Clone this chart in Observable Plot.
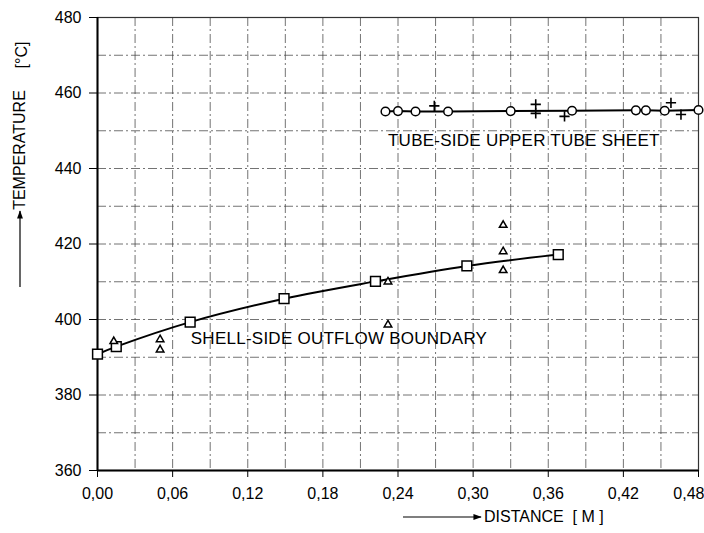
<!DOCTYPE html>
<html><head><meta charset="utf-8">
<script src="https://cdn.jsdelivr.net/npm/d3@7"></script>
<script src="https://cdn.jsdelivr.net/npm/@observablehq/plot@0.6"></script>
<style>
body{margin:0;background:#fff;}
#chart svg text{font-family:"Liberation Sans",Arial,sans-serif;}
</style></head><body><div id="chart"></div>
<script>
// Shell-side outflow boundary
const shellSquareX = [0.000, 0.015, 0.074, 0.149, 0.222, 0.295, 0.368];
const shellSquareY = [390.8, 392.8, 399.3, 405.5, 410.1, 414.2, 417.2];
const shellTriX = [0.013, 0.050, 0.050, 0.232, 0.232, 0.324, 0.324, 0.324];
const shellTriY = [394.2, 394.7, 392.0, 410.0, 398.6, 425.0, 418.0, 413.0];
// Tube-side upper tube sheet
const tubeCircleX = [0.230, 0.240, 0.254, 0.280, 0.330, 0.379, 0.430, 0.438, 0.453, 0.480];
const tubeCircleY = [455.1, 455.2, 455.1, 455.1, 455.2, 455.3, 455.4, 455.4, 455.3, 455.5];
const tubePlusX = [0.269, 0.350, 0.350, 0.373, 0.458, 0.466];
const tubePlusY = [456.6, 457.0, 454.6, 453.8, 457.4, 454.3];
// Axes
const xTicks = [0, 0.06, 0.12, 0.18, 0.24, 0.30, 0.36, 0.42, 0.48];
const xTickLabels = ["0,00","0,06","0,12","0,18","0,24","0,30","0,36","0,42","0,48"];
const yTicks = [360, 380, 400, 420, 440, 460, 480];
const xGrid = [0.03, 0.06, 0.09, 0.12, 0.15, 0.18, 0.21, 0.24, 0.27, 0.30, 0.33, 0.36, 0.39, 0.42, 0.45];
const yGrid = [370, 380, 390, 400, 410, 420, 430, 440, 450, 460, 470];
const labels = [
  {text: "SHELL-SIDE OUTFLOW BOUNDARY", x: 0.0745, y: 395.0},
  {text: "TUBE-SIDE UPPER TUBE SHEET", x: 0.232, y: 447.4}
];

const squares = shellSquareX.map((x, i) => ({x, y: shellSquareY[i]}));
const tris = shellTriX.map((x, i) => ({x, y: shellTriY[i]}));
const circles = tubeCircleX.map((x, i) => ({x, y: tubeCircleY[i]}));
const pluses = tubePlusX.map((x, i) => ({x, y: tubePlusY[i]}));

const gridStyle = {stroke: "#444", strokeOpacity: 0.75, strokeWidth: 1, strokeDasharray: "9,3,2,3"};

const plot = Plot.plot({
  width: 704, height: 533,
  marginLeft: 97, marginRight: 6, marginTop: 17, marginBottom: 63,
  style: {background: "#fff", color: "#000", fontSize: "16px"},
  x: {domain: [0, 0.48]},
  y: {domain: [360, 480]},
  marks: [
    Plot.ruleX(xGrid, gridStyle),
    Plot.ruleY(yGrid, gridStyle),
    Plot.frame({stroke: "#333", strokeWidth: 1.2}),
    Plot.ruleX([0], {stroke: "#000", strokeWidth: 2}),
    Plot.ruleY([360], {stroke: "#000", strokeWidth: 2}),
    Plot.axisX({ticks: xTicks, tickFormat: d => xTickLabels[xTicks.findIndex(t => Math.abs(t - d) < 1e-9)], tickSize: 7, tickPadding: 10, label: null, fontSize: 16}),
    Plot.axisY({ticks: yTicks, tickSize: 8, tickPadding: 8, label: null, fontSize: 16}),
    Plot.line(squares, {x: "x", y: "y", curve: "catmull-rom", stroke: "#000", strokeWidth: 2}),
    Plot.line(circles, {x: "x", y: "y", stroke: "#000", strokeWidth: 2}),
    Plot.dot(squares, {x: "x", y: "y", symbol: "square", r: 5.5, fill: "#fff", stroke: "#000", strokeWidth: 1.5}),
    Plot.dot(tris, {x: "x", y: "y", symbol: "triangle2", r: 3.6, fill: "#fff", stroke: "#000", strokeWidth: 1.5}),
    Plot.dot(circles, {x: "x", y: "y", symbol: "circle", r: 4.3, fill: "#fff", stroke: "#000", strokeWidth: 1.5}),
    Plot.dot(pluses, {x: "x", y: "y", symbol: "plus", r: 3.4, stroke: "#000", strokeWidth: 1.6}),
    Plot.text(labels, {x: "x", y: "y", text: "text", textAnchor: "start", fontSize: 17, fill: "#000"})
  ]
});
document.getElementById("chart").appendChild(plot);

const svg = d3.select(plot);
// letter spacing of the in-plot labels
svg.selectAll("text").filter(function() { return /SIDE/.test(this.textContent); })
  .style("letter-spacing", "0.25px");
// keep last x tick label inside the picture
svg.selectAll("text").filter(function() { return this.textContent === "0,48"; })
  .attr("text-anchor", "end").attr("dx", 6);

// Axis titles with arrows
svg.append("defs").append("marker")
  .attr("id", "ah").attr("viewBox", "0 0 10 10").attr("refX", 9).attr("refY", 5)
  .attr("markerWidth", 9).attr("markerHeight", 7).attr("orient", "auto-start-reverse")
  .append("path").attr("d", "M0,1.5 L10,5 L0,8.5 z").attr("fill", "#000");
const yl = svg.append("g").attr("font-size", 16).attr("fill", "#000").attr("text-anchor", "middle");
yl.append("text").attr("transform", "translate(25,150) rotate(-90)").text("TEMPERATURE");
yl.append("text").attr("transform", "translate(27,55) rotate(-90)").text("[°C]");
svg.append("line").attr("x1", 20).attr("x2", 20).attr("y1", 287).attr("y2", 211)
  .attr("stroke", "#000").attr("stroke-width", 1.2).attr("marker-end", "url(#ah)");
svg.append("line").attr("x1", 403).attr("x2", 481).attr("y1", 517).attr("y2", 517)
  .attr("stroke", "#000").attr("stroke-width", 1.2).attr("marker-end", "url(#ah)");
svg.append("text").attr("x", 484).attr("y", 522).attr("font-size", 16).attr("fill", "#000")
  .attr("text-anchor", "start").style("white-space", "pre").text("DISTANCE  [ M ]");
</script>
</body></html>
